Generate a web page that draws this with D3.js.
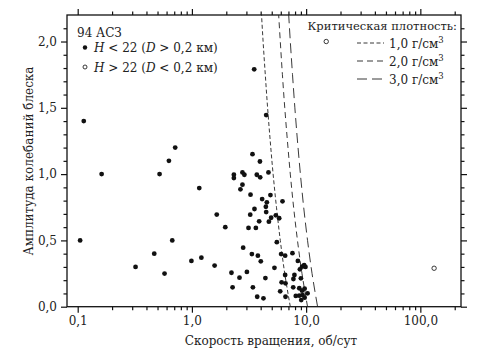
<!DOCTYPE html>
<html>
<head>
<meta charset="utf-8">
<script src="https://cdn.jsdelivr.net/npm/d3@7"></script>
<style>
  body { margin: 0; background: #fff; }
  svg { display: block; }
  svg text, .axis { font-family: "DejaVu Serif", "Liberation Serif", serif; }
  .axis text { font-size: 12px; fill: #222; }
  .axis line, .axis path { stroke: #111; stroke-width: 1.2; }
</style>
</head>
<body>
<svg id="chart" width="495" height="361"></svg>
<script>
// rotation rate (rev/day) and lightcurve amplitude, H < 22
const rateBig = [0.113,0.162,0.105,0.321,0.468,0.576,0.521,0.629,0.714,0.673,0.99,1.21,1.58,1.16,1.65,1.96,
  3.51,4.47,3.39,3.94,2.33,2.33,2.77,2.88,3.70,3.96,4.68,2.77,2.66,3.26,4.87,4.12,4.53,4.44,4.47,6.21,3.53,3.24,4.94,3.88,4.72,5.43,5.81,3.13,3.63,
  2.81,5.54,3.35,3.78,4.01,6.04,6.55,7.59,2.22,2.61,3.03,2.27,3.42,3.73,4.23,4.40,5.28,8.47,8.82,9.21,9.61,9.87,6.55,7.90,9.0,6.1,6.6,7.74,5.93,6.6,7.71,8.71,9.21,9.70,10.3,8.12,8.71,9.31,9.70,9.06];
const ampBig = [1.40,1.00,0.50,0.30,0.40,0.25,1.00,1.10,1.20,0.50,0.345,0.37,0.31,0.895,0.695,0.60,
  1.79,1.445,1.15,1.095,0.995,0.97,1.013,0.995,0.995,0.976,1.013,0.92,0.885,0.845,0.842,0.812,0.787,0.754,0.714,0.795,0.737,0.694,0.671,0.644,0.641,0.689,0.667,0.594,0.594,
  0.445,0.487,0.397,0.385,0.342,0.397,0.385,0.404,0.256,0.219,0.262,0.146,0.146,0.075,0.063,0.216,0.293,0.345,0.282,0.302,0.314,0.30,0.239,0.239,0.214,0.184,0.176,0.209,0.116,0.075,0.146,0.139,0.121,0.136,0.101,0.081,0.083,0.088,0.068,0.05];
// H > 22
const rateSmall = [15, 132];
const ampSmall = [2.0, 0.29];

// critical spin rate curves
const critAmp = [0, 0.25, 0.5, 0.75, 1.0, 1.25, 1.5, 1.75, 2.0, 2.2];
const crit1 = [7.27, 6.50, 5.94, 5.50, 5.14, 4.85, 4.60, 4.39, 4.20, 4.07];
const crit2 = [10.29, 9.20, 8.40, 7.77, 7.27, 6.86, 6.50, 6.20, 5.94, 5.75];
const crit3 = [12.60, 11.27, 10.29, 9.52, 8.91, 8.40, 7.97, 7.60, 7.27, 7.04];
const critLabels = ["1,0", "2,0", "3,0"];
const critDash = ["4,2.5", "6,4", "10,5"];

const xMajor = [0.1, 1, 10, 100];
const xMinor = [0.2,0.3,0.4,0.5,0.6,0.7,0.8,0.9,2,3,4,5,6,7,8,9,20,30,40,50,60,70,80,90,200];
const yMajor = [0, 0.5, 1.0, 1.5, 2.0];
const yMinor = [0.1,0.2,0.3,0.4,0.6,0.7,0.8,0.9,1.1,1.2,1.3,1.4,1.6,1.7,1.8,1.9,2.1];

const L = 67, R = 461, T = 15, B = 306.7;
const FS = 12;
const svg = d3.select("#chart");
const x = d3.scaleLog().domain([0.0806, 227]).range([L, R]);
const y = d3.scaleLinear().domain([0, 2.2]).range([B, T]);
const fmt = d => d3.format(".1f")(d).replace(".", ",");

// axes: major + minor on all four sides
function addAxis(axisFn, scale, vals, size, labels, tr) {
  const g = svg.append("g").attr("class", "axis").attr("transform", tr)
    .call(axisFn(scale).tickValues(vals).tickSize(size).tickSizeOuter(0)
      .tickPadding(4).tickFormat(labels ? fmt : ""));
  g.select(".domain").remove();
  return g;
}
addAxis(d3.axisBottom, x, xMajor, 6, true, `translate(0,${B})`);
addAxis(d3.axisBottom, x, xMinor, 3.5, false, `translate(0,${B})`);
addAxis(d3.axisTop, x, xMajor, 6, false, `translate(0,${T})`);
addAxis(d3.axisTop, x, xMinor, 3.5, false, `translate(0,${T})`);
addAxis(d3.axisLeft, y, yMajor, 6, true, `translate(${L},0)`);
addAxis(d3.axisLeft, y, yMinor, 3.5, false, `translate(${L},0)`);
addAxis(d3.axisRight, y, yMajor, 6, false, `translate(${R},0)`);
addAxis(d3.axisRight, y, yMinor, 3.5, false, `translate(${R},0)`);

svg.append("rect").attr("x", L).attr("y", T).attr("width", R - L).attr("height", B - T)
  .attr("fill", "none").attr("stroke", "#111").attr("stroke-width", 1.3);

svg.append("clipPath").attr("id", "clip").append("rect")
  .attr("x", L).attr("y", T).attr("width", R - L).attr("height", B - T);

// critical density lines
const line = d3.line().x(d => x(d[0])).y(d => y(d[1])).curve(d3.curveMonotoneY);
[crit1, crit2, crit3].forEach((c, i) => {
  svg.append("path").attr("clip-path", "url(#clip)")
    .datum(c.map((r, j) => [r, critAmp[j]]))
    .attr("d", line).attr("fill", "none").attr("stroke", "#222")
    .attr("stroke-width", 0.9).attr("stroke-dasharray", critDash[i]);
});

// points
svg.append("g").selectAll("circle").data(rateBig).join("circle")
  .attr("cx", d => x(d)).attr("cy", (d, i) => y(ampBig[i])).attr("r", 2.4).attr("fill", "#111");
svg.append("g").selectAll("circle").data(rateSmall).join("circle")
  .attr("cx", d => x(d)).attr("cy", (d, i) => y(ampSmall[i])).attr("r", 2.2)
  .attr("fill", "#fff").attr("stroke", "#222").attr("stroke-width", 0.9);

// axis titles
svg.append("text").attr("x", 271).attr("y", 345).attr("text-anchor", "middle")
  .attr("font-size", FS).attr("fill", "#222").text("Скорость вращения, об/сут");
svg.append("text").attr("transform", "translate(33,161) rotate(-90)").attr("text-anchor", "middle")
  .attr("font-size", FS).attr("fill", "#222").text("Амплитуда колебаний блеска");

// left legend
svg.append("text").attr("x", 77).attr("y", 37).attr("font-size", FS).attr("fill", "#222").text("94 АСЗ");
const leg = [["<", ">", true], [">", "<", false]];
leg.forEach((l, i) => {
  const yy = 47.5 + i * 19.5;
  svg.append("circle").attr("cx", 85).attr("cy", yy).attr("r", l[2] ? 2.2 : 2)
    .attr("fill", l[2] ? "#111" : "#fff").attr("stroke", "#222").attr("stroke-width", l[2] ? 0 : 0.9);
  const t = svg.append("text").attr("x", 94).attr("y", yy + 4.5).attr("font-size", FS).attr("fill", "#222");
  t.append("tspan").attr("font-style", "italic").text("H");
  t.append("tspan").text(` ${l[0]} 22 (`);
  t.append("tspan").attr("font-style", "italic").text("D");
  t.append("tspan").text(` ${l[1]} 0,2 км)`);
});

// right legend
svg.append("text").attr("x", 457).attr("y", 30).attr("text-anchor", "end")
  .attr("font-size", 11.5).attr("fill", "#222").text("Критическая плотность:");
critLabels.forEach((lab, i) => {
  const yy = 43 + i * 18;
  svg.append("line").attr("x1", 357).attr("x2", 384).attr("y1", yy).attr("y2", yy)
    .attr("stroke", "#222").attr("stroke-width", 0.9).attr("stroke-dasharray", critDash[i]);
  const t = svg.append("text").attr("x", 389).attr("y", yy + 4.5).attr("font-size", FS).attr("fill", "#222");
  t.append("tspan").text(lab + " г/см");
  t.append("tspan").attr("dy", -5).attr("font-size", 8.5).text("3");
});
</script>
</body>
</html>
